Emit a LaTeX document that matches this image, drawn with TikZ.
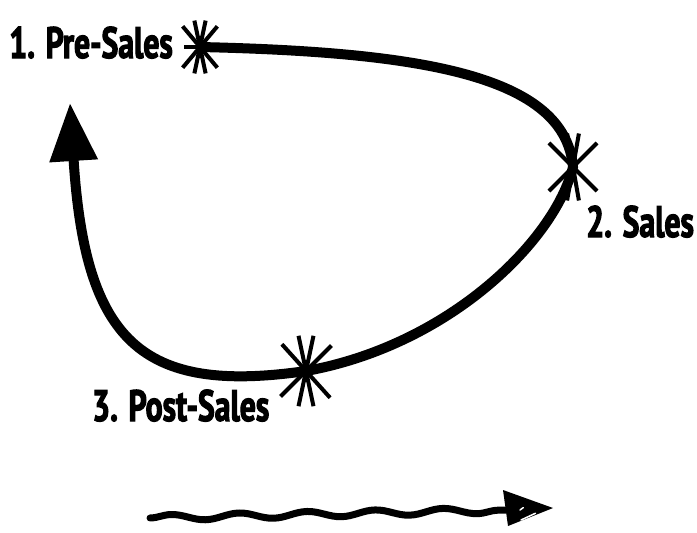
\documentclass[tikz,border=0pt]{standalone}
\usepackage{fontspec}
\setmainfont{PT Sans}[FakeStretch=0.72, FakeBold=2.5]
\usetikzlibrary{arrows.meta,decorations.pathmorphing}
\tikzset{
  mainpath/.style={line width=10pt, line cap=round, -{Triangle[length=58pt,width=46pt]}},
  spoke/.style={line width=4pt},
  lbl/.style={font=\fontsize{44pt}{46pt}\selectfont\bfseries, inner sep=0pt},
  wave/.style={line width=7pt, line cap=round, decorate, decoration={snake, amplitude=3pt, segment length=68pt}},
}
\begin{document}
\begin{tikzpicture}[x=1pt,y=1pt]
\useasboundingbox (0,0) rectangle (697,-533);
% points
\coordinate (s1) at (200,-47);
\coordinate (s2) at (573,-167);
\coordinate (s3) at (306,-371);
\coordinate (tip) at (70,-103);
% main loop
\draw[mainpath] (s1) .. controls (420,-52) and (565,-75) .. (s2)
  .. controls (555,-240) and (450,-345) .. (s3)
  .. controls (140,-395) and (85,-340) .. (tip);
% star bursts
\foreach \a in {50,78,102,130} \draw[spoke] (s1) ++(\a:27) -- ++(\a+180:54);
\draw[spoke] (s1) -- ++(-16,0);
\foreach \a in {45,80,100,135} \draw[spoke] (s2) ++(\a:34) -- ++(\a+180:68);
\foreach \a in {45,78,102,132} \draw[spoke] (s3) ++(\a:36) -- ++(\a+180:72);
% labels
\node[lbl, anchor=base east] (l1) at (173,-58) {1. Pre-Sales};
\node[lbl, anchor=base west] (l2) at (586,-237) {2. Sales};
\node[lbl, anchor=base west] (l3) at (92,-421) {3. Post-Sales};
% wavy arrow
\coordinate (w0) at (150,-518);
\coordinate (w1) at (506,-510);
\coordinate (wt) at (553,-508);
\draw[wave] (w0) -- (w1);
\fill (w1) ++(-3,20) -- (wt) -- ([shift={(2,-16)}]w1) -- cycle;
\draw[white, line width=1.5pt, line cap=round] ([shift={(14,0)}]w1) -- ++(36:4);
\draw[white, line width=1.5pt, line cap=round] ([shift={(15,-10)}]w1) -- ++(25:16);
\end{tikzpicture}
\end{document}
